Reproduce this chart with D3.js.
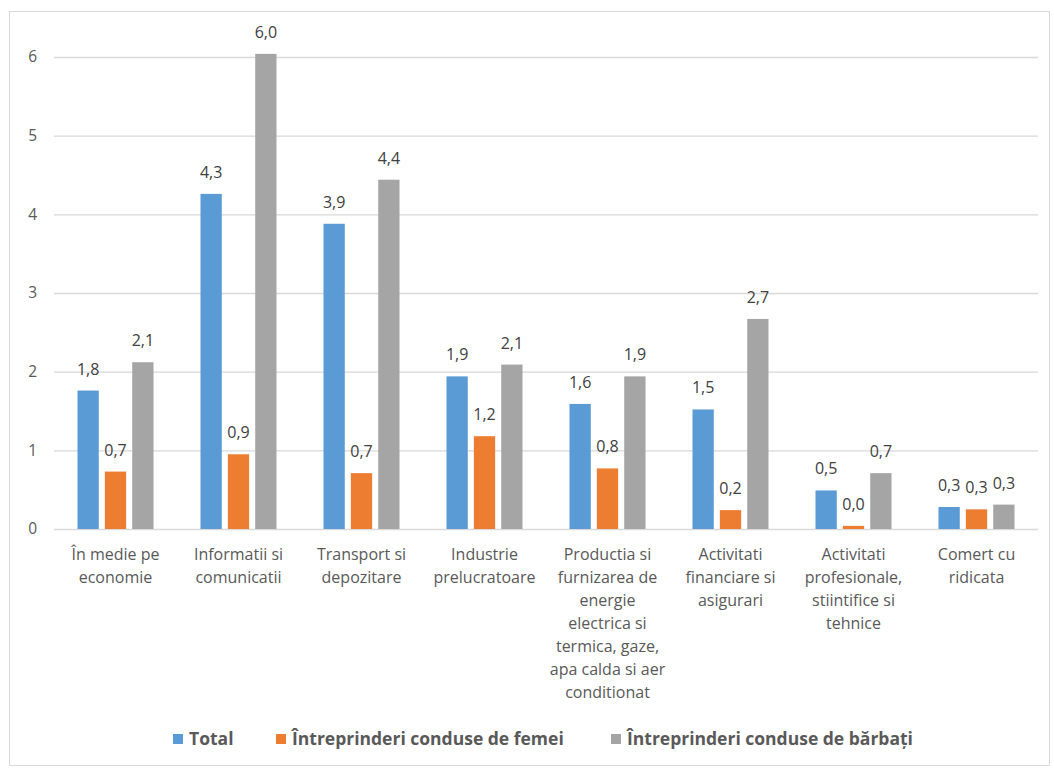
<!DOCTYPE html>
<html>
<head>
<meta charset="utf-8">
<script src="https://cdn.jsdelivr.net/npm/d3@7"></script>
<style>
  html, body { margin: 0; padding: 0; background: #fff; }
  svg { display: block; font-family: "Open Sans", "Noto Sans", sans-serif; }
</style>
</head>
<body>
<svg id="chart" width="1054" height="768"></svg>
<script>
// Sector labels (line breaks as they wrap under the axis)
const categories = [
  "În medie pe\neconomie",
  "Informatii si\ncomunicatii",
  "Transport si\ndepozitare",
  "Industrie\nprelucratoare",
  "Productia si\nfurnizarea de\nenergie\nelectrica si\ntermica, gaze,\napa calda si aer\nconditionat",
  "Activitati\nfinanciare si\nasigurari",
  "Activitati\nprofesionale,\nstiintifice si\ntehnice",
  "Comert cu\nridicata"
];

const seriesNames = ["Total", "Întreprinderi conduse de femei", "Întreprinderi conduse de bărbați"];

const totalValues   = [1.76, 4.26, 3.88, 1.94, 1.59, 1.52, 0.49, 0.28];
const femeiValues   = [0.73, 0.95, 0.71, 1.18, 0.77, 0.24, 0.04, 0.25];
const barbatiValues = [2.12, 6.04, 4.44, 2.09, 1.94, 2.67, 0.71, 0.31];

const yTicks = [0, 1, 2, 3, 4, 5, 6];

const colors = ["#5b9bd5", "#ed7d31", "#a5a5a5"];
const seriesValues = [totalValues, femeiValues, barbatiValues];

const svg = d3.select("#chart");

// Chart area border
svg.append("rect")
  .attr("x", 9.5).attr("y", 11.5)
  .attr("width", 1040).attr("height", 754)
  .attr("fill", "#fff").attr("stroke", "#d9d9d9").attr("stroke-width", 1);

const plot = { left: 54, right: 1038, top: 57, bottom: 529 };

const x = d3.scaleBand()
  .domain(d3.range(categories.length))
  .range([plot.left, plot.right])
  .paddingInner(0.382)
  .paddingOuter(0.191);

const xs = d3.scaleBand()
  .domain(d3.range(seriesNames.length))
  .range([0, x.bandwidth()])
  .paddingInner(0.222);

const y = d3.scaleLinear().domain([0, 6]).range([plot.bottom, plot.top]);

// Gridlines and y tick labels
const yAxis = d3.axisLeft(y).tickValues(yTicks).tickSize(-(plot.right - plot.left)).tickPadding(17)
  .tickFormat(d3.format("d"));
const gy = svg.append("g").attr("transform", `translate(${plot.left},0)`).call(yAxis);
gy.select(".domain").remove();
gy.selectAll(".tick line").attr("stroke", "#d9d9d9").attr("stroke-width", 1.3);
gy.selectAll(".tick text")
  .attr("fill", "#595959").attr("font-size", 15.5)
  .attr("font-family", "'Open Sans', sans-serif");

// Bars
seriesValues.forEach((vals, s) => {
  svg.append("g").selectAll("rect")
    .data(vals)
    .join("rect")
    .attr("x", (d, i) => x(i) + xs(s))
    .attr("y", d => y(d))
    .attr("width", xs.bandwidth())
    .attr("height", d => y(0) - y(d))
    .attr("fill", colors[s]);
});

// Data labels
const fmt = v => d3.format(".1f")(v).replace(".", ",");
seriesValues.forEach((vals, s) => {
  svg.append("g").selectAll("text")
    .data(vals)
    .join("text")
    .attr("x", (d, i) => x(i) + xs(s) + xs.bandwidth() / 2)
    .attr("y", d => y(d) - 16)
    .attr("text-anchor", "middle")
    .attr("fill", "#404040")
    .attr("font-size", 16)
    .text(d => fmt(d));
});

// Category labels under the axis
const xl = svg.append("g");
categories.forEach((c, i) => {
  const t = xl.append("text")
    .attr("x", x(i) + x.bandwidth() / 2)
    .attr("y", 560)
    .attr("text-anchor", "middle")
    .attr("fill", "#595959")
    .attr("font-size", 16);
  c.split("\n").forEach((line, k) => {
    t.append("tspan")
      .attr("x", x(i) + x.bandwidth() / 2)
      .attr("dy", k === 0 ? 0 : 23)
      .text(line);
  });
});

// Legend
const legendX = [173, 276, 611];
const lg = svg.append("g");
seriesNames.forEach((name, s) => {
  lg.append("rect")
    .attr("x", legendX[s]).attr("y", 734)
    .attr("width", 10).attr("height", 10)
    .attr("fill", colors[s]);
  lg.append("text")
    .attr("x", legendX[s] + 16).attr("y", 745)
    .attr("fill", "#595959")
    .attr("font-size", 17.5)
    .attr("font-weight", "bold")
    .text(name);
});
</script>
</body>
</html>
